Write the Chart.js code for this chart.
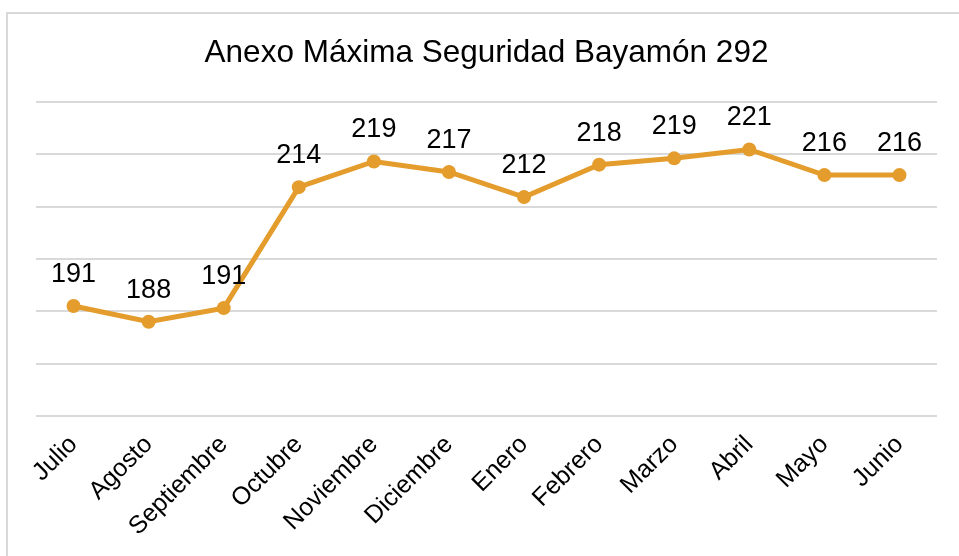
<!DOCTYPE html>
<html lang="es">
<head>
  <meta charset="UTF-8">
  <title>Anexo Máxima Seguridad Bayamón 292</title>
  <script src="https://cdn.jsdelivr.net/npm/chart.js"></script>
  <style>
    html, body {
      margin: 0;
      padding: 0;
      background: #ffffff;
      overflow: hidden;
    }
    #wrap {
      position: relative;
      width: 959px;
      height: 556px;
    }
    /* light frame of the chart box, only top and left edges are visible */
    #frame {
      position: absolute;
      left: 6px;
      top: 12px;
      width: 1000px;
      height: 600px;
      border-left: 2px solid #d9d9d9;
      border-top: 2px solid #d9d9d9;
    }
    canvas {
      position: absolute;
      left: 0;
      top: 0;
    }
  </style>
</head>
<body>
  <div id="wrap">
    <div id="frame"></div>
    <canvas id="mainChart" width="959" height="556"></canvas>
  </div>

  <script>
    const months = ['Julio', 'Agosto', 'Septiembre', 'Octubre', 'Noviembre', 'Diciembre',
                    'Enero', 'Febrero', 'Marzo', 'Abril', 'Mayo', 'Junio'];
    const population = [191.0, 188.0, 190.6, 213.7, 218.6, 216.6, 211.8, 218.0, 219.2, 220.9, 216.0, 216.0];
    const yMin = 170;
    const yMax = 230;
    const lineColor = '#e49c2c';

    // labels drawn above every point (rounded like the source)
    const pointLabels = {
      id: 'pointLabels',
      afterDatasetsDraw(chart) {
        const ctx = chart.ctx;
        const meta = chart.getDatasetMeta(0);
        ctx.save();
        ctx.font = '27px "Liberation Sans", Arial, sans-serif';
        ctx.fillStyle = '#000000';
        ctx.textAlign = 'center';
        ctx.textBaseline = 'alphabetic';
        meta.data.forEach((pt, i) => {
          ctx.fillText(String(Math.round(population[i])), pt.x, pt.y - 24);
        });
        ctx.restore();
      }
    };

    Chart.defaults.font.family = '"Liberation Sans", Arial, sans-serif';
    Chart.defaults.color = '#000000';

    const ctx = document.getElementById('mainChart').getContext('2d');
    new Chart(ctx, {
      type: 'line',
      data: {
        labels: months,
        datasets: [{
          label: 'Anexo Máxima Seguridad Bayamón 292',
          data: population,
          borderColor: lineColor,
          backgroundColor: lineColor,
          borderWidth: 5,
          pointRadius: 7,
          pointHoverRadius: 7,
          pointBackgroundColor: lineColor,
          pointBorderWidth: 0,
          tension: 0,
          fill: false
        }]
      },
      options: {
        responsive: false,
        animation: false,
        layout: { padding: { left: 36, right: 22, top: 0, bottom: 0 } },
        plugins: {
          legend: { display: false },
          tooltip: { enabled: false },
          title: {
            display: true,
            text: 'Anexo Máxima Seguridad Bayamón 292',
            font: { size: 31.5, weight: 'normal', lineHeight: 1.2 },
            color: '#000000',
            padding: { top: 34, bottom: 30 }
          }
        },
        scales: {
          x: {
            offset: true,
            grid: { display: false },
            border: { display: false },
            ticks: {
              minRotation: 45,
              maxRotation: 45,
              padding: 6,
              font: { size: 25 },
              color: '#000000'
            },
            afterFit(scale) { scale.height = 140; }
          },
          y: {
            min: yMin,
            max: yMax,
            border: { display: false },
            grid: { color: '#d9d9d9', lineWidth: 2, drawTicks: false },
            ticks: { display: false, stepSize: 10 },
            afterFit(scale) { scale.width = 0; }
          }
        }
      },
      plugins: [pointLabels]
    });
  </script>
</body>
</html>
